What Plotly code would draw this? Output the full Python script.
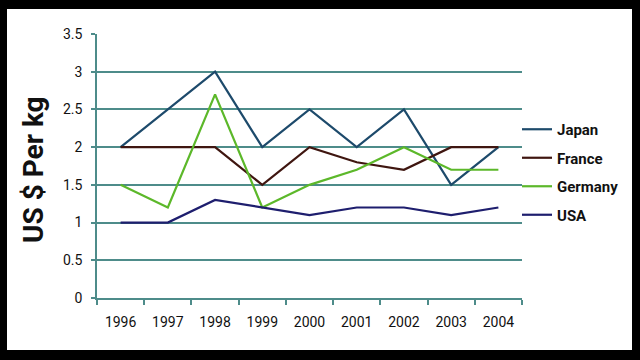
import plotly.graph_objects as go

years = ["1996", "1997", "1998", "1999", "2000", "2001", "2002", "2003", "2004"]
japan = [2.0, 2.5, 3.0, 2.0, 2.5, 2.0, 2.5, 1.5, 2.0]
france = [2.0, 2.0, 2.0, 1.5, 2.0, 1.8, 1.7, 2.0, 2.0]
germany = [1.5, 1.2, 2.7, 1.2, 1.5, 1.7, 2.0, 1.7, 1.7]
usa = [1.0, 1.0, 1.3, 1.2, 1.1, 1.2, 1.2, 1.1, 1.2]

series = [
    ("Japan", japan, "#1d4a6b"),
    ("France", france, "#3f1610"),
    ("Germany", germany, "#5cb82a"),
    ("USA", usa, "#1e1e6e"),
]

grid = "#4e8c8a"
font_fam = "Roboto, 'Liberation Sans', sans-serif"

fig = go.Figure()
for name, vals, col in series:
    fig.add_trace(go.Scatter(x=years, y=vals, name=name, mode="lines",
                             line=dict(color=col, width=2.2), legendgroup=name))

L, R, T, B = 97, 118, 34, 62
W, H = 640, 360
pw, ph = W - L - R, H - T - B

def px(x):
    return (x - L) / pw

def py(y):
    return (H - B - y) / ph

fig.add_shape(type="rect", xref="paper", yref="paper", layer="below",
              x0=px(7), x1=px(632), y0=py(350), y1=py(9),
              fillcolor="white", line=dict(width=0))

fig.add_annotation(text="<b>US $ Per kg</b>", xref="paper", yref="paper",
                   x=px(33), y=py(170), textangle=-90, showarrow=False,
                   xanchor="center", yanchor="middle",
                   font=dict(family=font_fam, size=28, color="#111"))

fig.update_layout(
    width=W, height=H,
    margin=dict(l=L, r=R, t=T, b=B, pad=0),
    paper_bgcolor="black", plot_bgcolor="white",
    font=dict(family=font_fam, size=14, color="#111"),
    showlegend=True,
    legend=dict(x=px(517), y=py(113), xanchor="left", yanchor="top",
                bgcolor="rgba(0,0,0,0)", itemwidth=30, tracegroupgap=6,
                font=dict(family=font_fam, size=15, color="#111", weight="bold")),
    xaxis=dict(type="category", range=[-0.5, 8.5], showgrid=False, showline=True,
               linecolor=grid, linewidth=1.5, ticks="outside", tickson="boundaries",
               ticklen=5, tickcolor=grid, tickwidth=1.5, zeroline=False,
               ticklabelstandoff=10),
    yaxis=dict(range=[0, 3.5], dtick=0.5, tick0=0, showgrid=True, gridcolor=grid,
               gridwidth=1.5, showline=True, linecolor=grid, linewidth=1.5,
               ticks="outside", ticklen=4, tickcolor=grid, tickwidth=1.5,
               zeroline=False, ticklabelstandoff=6),
)

fig.write_html("out.html", config={"displayModeBar": False},
               post_script="document.body.style.margin='0';")
